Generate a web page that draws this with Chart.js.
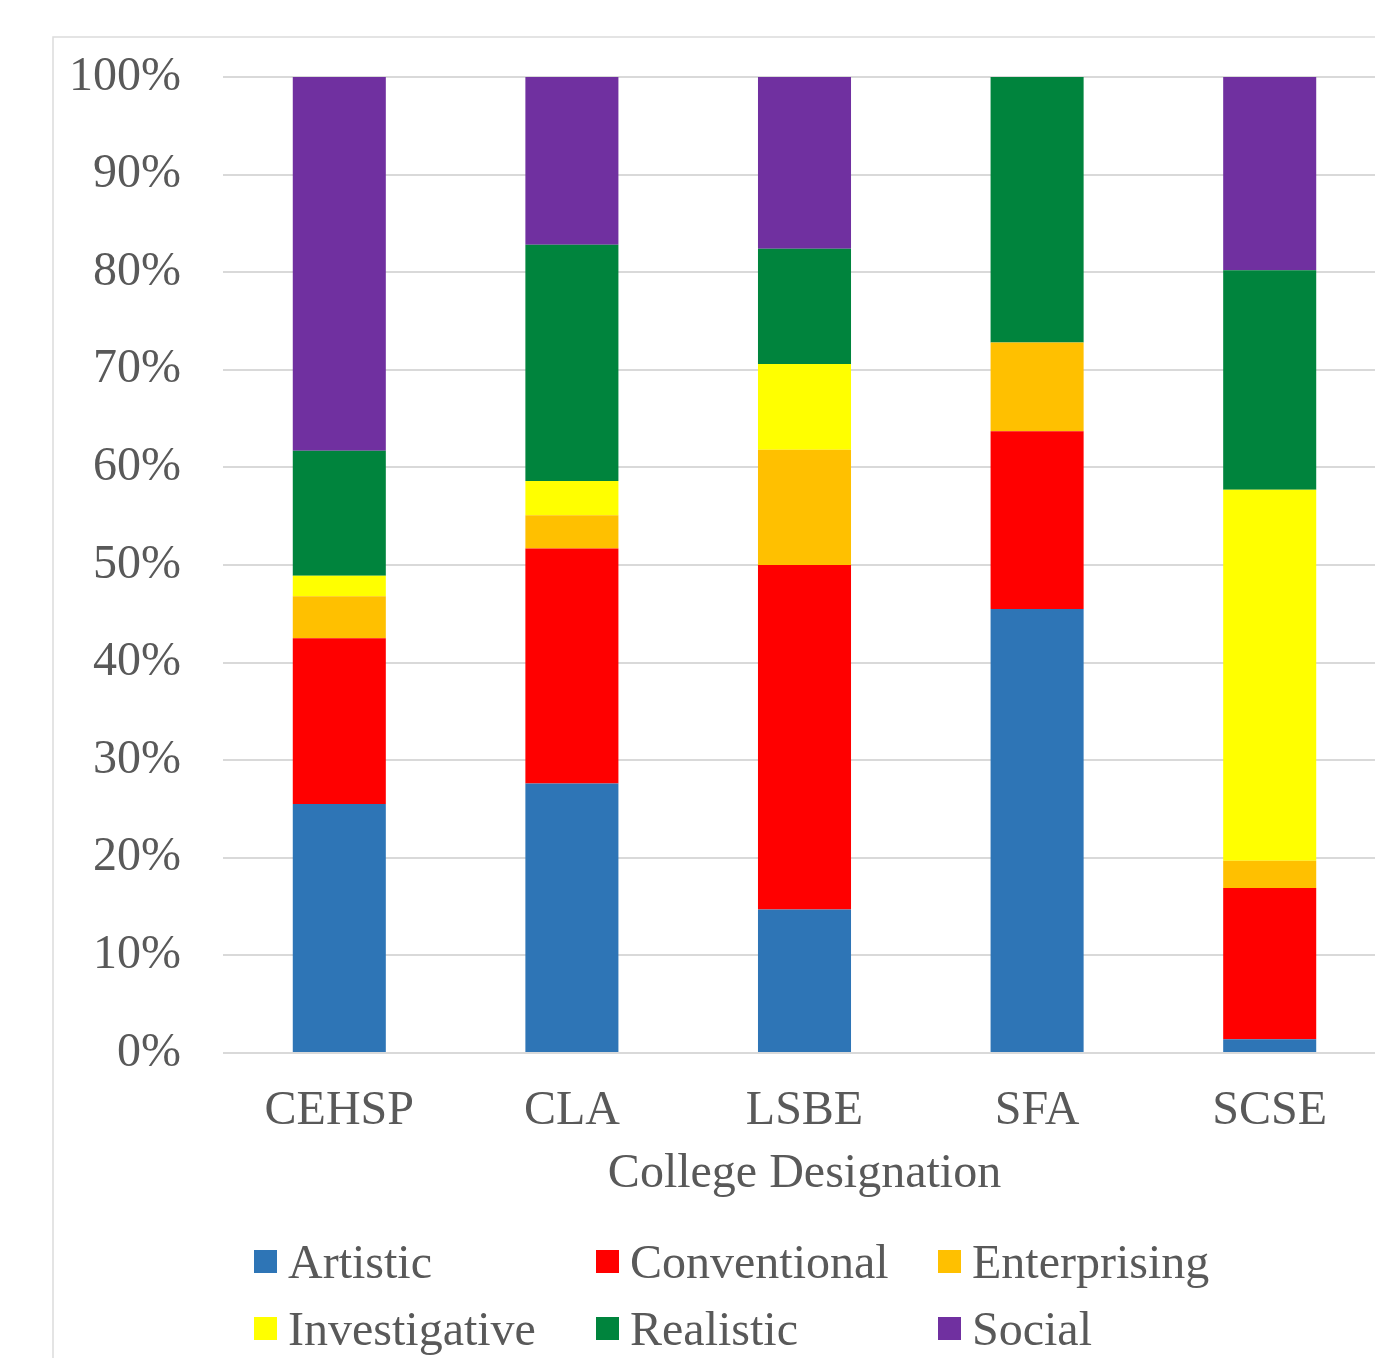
<!DOCTYPE html>
<html>
<head>
<meta charset="utf-8">
<script src="https://cdn.jsdelivr.net/npm/chart.js@4.4.1/dist/chart.umd.min.js"></script>
<style>
  html, body { margin: 0; padding: 0; background: #fff; overflow: hidden; width: 1375px; height: 1358px; }
  canvas { display: block; }
</style>
</head>
<body>
<canvas id="chart" width="1400" height="1358" style="width:1400px;height:1358px"></canvas>
<script>
// Share of students per interest type, by college (percent of college total)
const colleges = ['CEHSP', 'CLA', 'LSBE', 'SFA', 'SCSE'];
const seriesNames = ['Artistic', 'Conventional', 'Enterprising', 'Investigative', 'Realistic', 'Social'];

const artistic      = [25.5, 27.6, 14.7, 45.5,  1.4];
const conventional  = [17.0, 24.1, 35.3, 18.2, 15.5];
const enterprising  = [ 4.3,  3.4, 11.8,  9.1,  2.8];
const investigative = [ 2.1,  3.5,  8.8,  0.0, 38.0];
const realistic     = [12.8, 24.2, 11.8, 27.2, 22.5];
const social        = [38.3, 17.2, 17.6,  0.0, 19.8];

const seriesValues = [artistic, conventional, enterprising, investigative, realistic, social];
const seriesColors = ['#2E75B6', '#FF0000', '#FFC000', '#FFFF00', '#00843D', '#7030A0'];

const FONT = '"Liberation Serif", "Times New Roman", serif';
const TEXT = '#595959';

// Light frame around the whole chart
const frame = {
  id: 'frame',
  beforeDraw(chart) {
    const ctx = chart.ctx;
    ctx.save();
    ctx.strokeStyle = '#dcdcdc';
    ctx.lineWidth = 1.5;
    ctx.strokeRect(53, 37, 3000, 3000);
    ctx.restore();
  }
};

// Legend laid out as a fixed 3-column grid under the axis title
const gridLegend = {
  id: 'gridLegend',
  afterDraw(chart) {
    const ctx = chart.ctx;
    const area = chart.chartArea;
    ctx.save();
    ctx.font = '48px ' + FONT;
    ctx.textBaseline = 'alphabetic';
    ctx.textAlign = 'left';
    chart.data.datasets.forEach((ds, i) => {
      const col = i % 3;
      const row = Math.floor(i / 3);
      const x = area.left + 31 + col * 342;
      const y = area.bottom + 197 + row * 67;
      ctx.fillStyle = ds.backgroundColor;
      ctx.fillRect(x, y, 23, 23);
      ctx.fillStyle = TEXT;
      ctx.fillText(ds.label, x + 34, y + 28);
    });
    ctx.restore();
  }
};

new Chart(document.getElementById('chart'), {
  type: 'bar',
  data: {
    labels: colleges,
    datasets: seriesNames.map((name, i) => ({
      label: name,
      data: seriesValues[i],
      backgroundColor: seriesColors[i],
      borderWidth: 0,
      barPercentage: 0.4,
      categoryPercentage: 1.0
    }))
  },
  options: {
    responsive: false,
    animation: false,
    layout: { padding: { top: 77, left: 0, right: 14, bottom: 155 } },
    plugins: {
      legend: { display: false },
      tooltip: { enabled: false }
    },
    scales: {
      x: {
        stacked: true,
        grid: { display: false, drawTicks: false },
        border: { display: false },
        ticks: { color: TEXT, font: { family: FONT, size: 48 }, padding: 30 },
        title: {
          display: true,
          text: 'College Designation',
          color: TEXT,
          font: { family: FONT, size: 48 },
          padding: { top: 4, bottom: 0 }
        },
        afterFit(scale) { scale.height = 150; }
      },
      y: {
        stacked: true,
        min: 0,
        max: 100,
        grid: { color: '#d9d9d9', lineWidth: 2, drawTicks: false },
        border: { display: false },
        ticks: {
          stepSize: 10,
          color: TEXT,
          font: { family: FONT, size: 48 },
          padding: 42,
          callback: (v) => v + '%'
        },
        afterFit(scale) { scale.width = 223; }
      }
    }
  },
  plugins: [frame, gridLegend]
});
</script>
</body>
</html>
